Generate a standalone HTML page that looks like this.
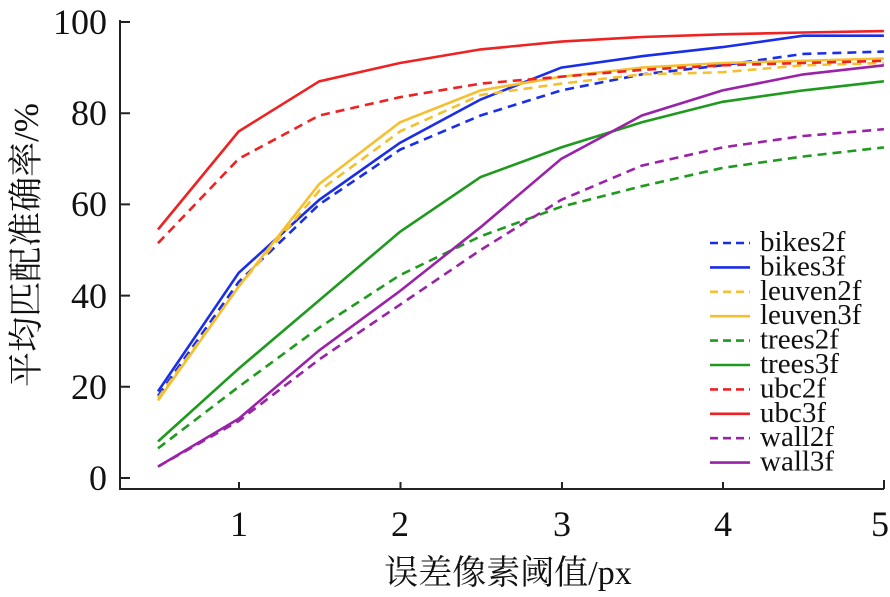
<!DOCTYPE html>
<html><head><meta charset="utf-8"><style>
html,body{margin:0;padding:0;background:#fff;}
svg{display:block;}
text{font-family:"Liberation Serif","Noto Serif CJK SC",serif;fill:#111;}
</style></head><body>
<svg id="c" width="890" height="597" xmlns="http://www.w3.org/2000/svg">
<g stroke="#222" stroke-width="2" fill="none">
<path d="M120 20 V489 H884"/>
<path d="M120 22 h10 M120 113.2 h10 M120 204.4 h10 M120 295.6 h10 M120 386.8 h10 M120 478 h10"/>
<path d="M239 489 v-7 M400.5 489 v-7 M562 489 v-7 M723 489 v-7 M884 489 v-9"/>
</g>
<g font-size="36" text-anchor="end">
<text x="107" y="34">100</text><text x="107" y="125">80</text><text x="107" y="216">60</text>
<text x="107" y="308">40</text><text x="107" y="399">20</text><text x="107" y="490">0</text>
</g>
<g font-size="36" text-anchor="middle">
<text x="239" y="536">1</text><text x="400" y="536">2</text><text x="562" y="536">3</text><text x="723" y="536">4</text><text x="880" y="536">5</text>
</g>
<text x="508" y="584" font-size="34" text-anchor="middle">误差像素阈值/px</text>
<text transform="translate(38,245) rotate(-90)" font-size="35" text-anchor="middle">平均匹配准确率/%</text>
<g id="lines" fill="none" stroke-width="2.6"></g>
<g id="leg" font-size="29"></g>
</svg>
<script>
var S=[
["bikes2f","#1a2ee8",1,[18,43,60,72,79.5,85,88.5,90.5,93,93.5]],
["bikes3f","#1a2ee8",0,[19,45,61,73.5,83,90,92.5,94.5,97,97]],
["leuven2f","#f5c030",1,[17.5,42,63,76,84,86.5,88.5,89,90.5,91]],
["leuven3f","#f5c030",0,[17,42,64.5,78,85,88,90,91,91.5,92]],
["trees2f","#1f9a1f",1,[6.5,20,33,44.5,53,59.5,64,68,70.5,72.5]],
["trees3f","#1f9a1f",0,[8,24,39,54,66,72.5,78,82.5,85,87]],
["ubc2f","#ee2222",1,[51.5,70,79.5,83.5,86.5,88,89.5,90.5,91,91.5]],
["ubc3f","#ee2222",0,[54.5,76,87,91,94,95.7,96.7,97.3,97.7,98]],
["wall2f","#9a22a8",1,[2.5,12.5,26,38,50,61,68.5,72.5,75,76.5]],
["wall3f","#9a22a8",0,[2.5,13,28,41,55,70,79.5,85,88.5,90.5]]];
var ns="http://www.w3.org/2000/svg",L=document.getElementById("lines"),G=document.getElementById("leg");
S.forEach(function(s,i){
 var p=s[3].map(function(v,j){return (158+j*0.5*161.3).toFixed(1)+","+(478-4.56*v).toFixed(1)}).join(" ");
 var e=document.createElementNS(ns,"polyline");e.setAttribute("points",p);e.setAttribute("stroke",s[1]);
 if(s[2])e.setAttribute("stroke-dasharray","9,6");L.appendChild(e);
 var y=243+i*24.4;
 var l=document.createElementNS(ns,"line");l.setAttribute("x1",710);l.setAttribute("x2",750);l.setAttribute("y1",y);l.setAttribute("y2",y);
 l.setAttribute("stroke",s[1]);l.setAttribute("stroke-width",2.6);if(s[2])l.setAttribute("stroke-dasharray","8,5");G.appendChild(l);
 var t=document.createElementNS(ns,"text");t.setAttribute("x",760);t.setAttribute("y",y+8);t.textContent=s[0];G.appendChild(t);
});
</script>
</body></html>
